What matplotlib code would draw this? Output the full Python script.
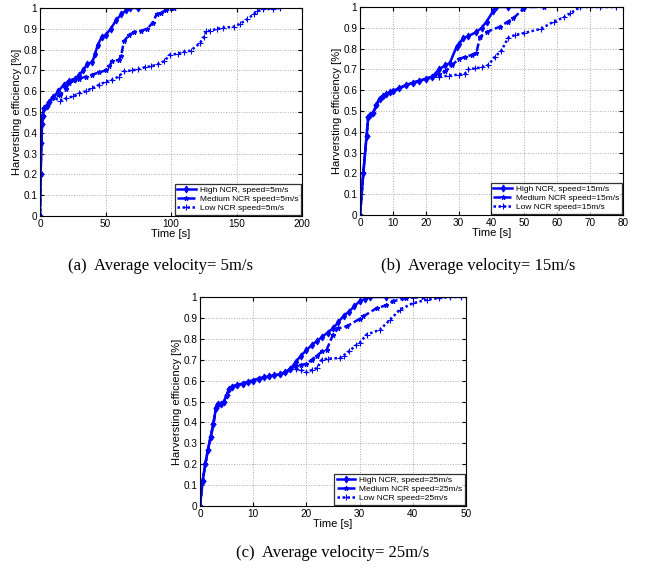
import numpy as np
import matplotlib
matplotlib.use("Agg")
import matplotlib.pyplot as plt

# ---------------------------------------------------------------------------
# data (time [s], harvesting efficiency)
# ---------------------------------------------------------------------------
# (a) 5 m/s
a_start_x = [0, 0.5, 1, 1.5, 2, 3, 5, 7, 10]
a_start_y = [0, 0.2, 0.35, 0.44, 0.48, 0.52, 0.53, 0.55, 0.57]
a_high_x = [14, 18, 22, 27, 30, 33, 36, 40, 42, 44, 47, 50, 54, 58, 62, 66, 69, 75]
a_high_y = [0.60, 0.63, 0.65, 0.66, 0.68, 0.70, 0.73, 0.74, 0.78, 0.82, 0.86, 0.87,
            0.90, 0.94, 0.97, 0.99, 1.0, 1.0]
a_med_x = [15, 20, 22, 25, 30, 35, 40, 45, 50, 53, 55, 60, 62, 64, 68, 72, 77, 82,
           86, 89, 92, 96, 100, 102]
a_med_y = [0.58, 0.61, 0.64, 0.655, 0.66, 0.67, 0.68, 0.69, 0.70, 0.72, 0.745, 0.75,
           0.77, 0.84, 0.87, 0.885, 0.89, 0.90, 0.93, 0.97, 0.975, 0.99, 1.0, 1.0]
a_low_x = [15, 20, 25, 30, 35, 40, 45, 50, 55, 60, 64, 70, 75, 80, 85, 90, 95, 99,
           105, 110, 115, 122, 125, 127, 130, 135, 140, 148, 153, 158, 163, 166,
           170, 178, 183]
a_low_y = [0.555, 0.565, 0.575, 0.59, 0.60, 0.615, 0.63, 0.645, 0.655, 0.67, 0.695,
           0.70, 0.705, 0.715, 0.72, 0.73, 0.745, 0.775, 0.78, 0.79, 0.795, 0.83,
           0.86, 0.89, 0.89, 0.90, 0.905, 0.91, 0.925, 0.945, 0.97, 0.985, 0.995,
           0.995, 1.0]

# (b) 15 m/s
b_start_x = [0, 1, 2, 2.5, 3, 4, 5, 6, 7, 8, 9, 10, 12, 14, 16, 18, 20, 22]
b_start_y = [0, 0.2, 0.38, 0.47, 0.48, 0.49, 0.53, 0.56, 0.57, 0.58, 0.59, 0.595,
             0.61, 0.625, 0.635, 0.645, 0.655, 0.665]
b_high_x = [24, 26, 27.3, 29.4, 30, 31.4, 33, 35.4, 37, 38.5, 40.5, 41.5, 45, 50]
b_high_y = [0.70, 0.72, 0.73, 0.81, 0.82, 0.85, 0.86, 0.88, 0.90, 0.93, 0.98, 1.0,
            1.0, 1.0]
b_med_x = [24, 26, 28, 30, 32, 34, 35.4, 36.5, 38.5, 42.5, 45, 46.6, 49.6, 50, 56]
b_med_y = [0.68, 0.69, 0.72, 0.75, 0.76, 0.77, 0.78, 0.856, 0.88, 0.905, 0.93, 0.945,
           0.99, 1.0, 1.0]
b_low_x = [24, 27, 30, 32, 33, 35, 37, 39, 41, 43, 45, 47, 50, 55, 59, 62, 64, 67,
           73, 78]
b_low_y = [0.665, 0.67, 0.675, 0.68, 0.70, 0.705, 0.71, 0.72, 0.76, 0.79, 0.85, 0.865,
           0.875, 0.895, 0.93, 0.95, 0.97, 1.0, 1.0, 1.0]

# (c) 25 m/s
c_start_x = [0, 0.5, 1, 1.5, 2, 2.5, 3, 3.3, 4, 4.5, 5, 5.5, 6, 7, 8, 9, 10, 11, 12,
             13, 14, 15, 16, 17]
c_start_y = [0, 0.12, 0.2, 0.27, 0.33, 0.39, 0.47, 0.49, 0.49, 0.50, 0.53, 0.56, 0.57,
             0.58, 0.585, 0.595, 0.60, 0.61, 0.615, 0.62, 0.625, 0.63, 0.64, 0.655]
c_high_x = [18, 19, 20, 21, 22, 23, 24, 25, 26, 27, 28, 29, 30, 31, 32, 35, 38]
c_high_y = [0.69, 0.72, 0.745, 0.77, 0.79, 0.81, 0.83, 0.85, 0.88, 0.91, 0.93, 0.955,
            0.98, 0.99, 1.0, 1.0, 1.0]
c_med_x = [18, 19, 20, 21, 22, 23, 23.8, 25, 26, 27.6, 30, 30.7, 33.2, 35, 36.3, 38.8,
           42]
c_med_y = [0.67, 0.675, 0.68, 0.70, 0.72, 0.74, 0.747, 0.82, 0.85, 0.86, 0.895, 0.907,
           0.947, 0.96, 0.98, 0.995, 1.0]
c_low_x = [18, 19, 20, 21, 22, 22.9, 24, 26.3, 27, 28, 29.4, 30, 31.3, 33.8, 35.7,
           37.6, 40, 42.6, 45, 47, 49]
c_low_y = [0.655, 0.65, 0.64, 0.65, 0.66, 0.70, 0.705, 0.708, 0.72, 0.74, 0.77, 0.78,
           0.82, 0.843, 0.89, 0.94, 0.97, 0.987, 0.995, 1.0, 1.0]

panels = [
    ("a", 5, [0, 200], np.arange(0, 201, 50),
     (a_start_x, a_start_y), [(a_high_x, a_high_y), (a_med_x, a_med_y), (a_low_x, a_low_y)]),
    ("b", 15, [0, 80], np.arange(0, 81, 10),
     (b_start_x, b_start_y), [(b_high_x, b_high_y), (b_med_x, b_med_y), (b_low_x, b_low_y)]),
    ("c", 25, [0, 50], np.arange(0, 51, 10),
     (c_start_x, c_start_y), [(c_high_x, c_high_y), (c_med_x, c_med_y), (c_low_x, c_low_y)]),
]

# axes boxes in pixels: left, top, right, bottom
W, H = 647, 571
boxes = {"a": (40, 8, 302, 216), "b": (360, 7, 623, 215), "c": (200, 297, 466, 506)}
captions = {"a": (160, 266), "b": (478, 266), "c": (333, 553)}

blue = "#0000ff"
styles = [dict(ls="-", marker="d", ms=3.5),
          dict(ls=(0, (3, 1.2)), marker="*", ms=3.5),
          dict(ls=(0, (1, 1)), marker="+", ms=4)]
names = ["High NCR, speed=%dm/s", "Medium NCR speed=%dm/s", "Low NCR speed=%dm/s"]

plt.rcParams["font.family"] = ["Liberation Sans", "DejaVu Sans"]

fig = plt.figure(figsize=(W / 100, H / 100), dpi=100)

for key, speed, xlim, xticks, start, series in panels:
    l, t, r, b = boxes[key]
    ax = fig.add_axes([l / W, 1 - b / H, (r - l) / W, (b - t) / H])
    for (sx, sy), st, nm in zip(series, styles, names):
        x = list(start[0]) + list(sx)
        y = list(start[1]) + list(sy)
        ax.plot(x, y, color=blue, lw=1.8, mew=0.8, label=nm % speed, **st)
    ax.set_xlim(xlim)
    ax.set_ylim(0, 1)
    ax.set_xticks(xticks)
    ax.set_yticks(np.arange(0, 1.01, 0.1))
    ax.set_yticklabels(["0"] + ["%.1f" % v for v in np.arange(0.1, 0.95, 0.1)] + ["1"])
    ax.grid(True, ls=":", color="#aaaaaa", lw=0.7)
    ax.tick_params(direction="in", top=True, right=True, labelsize=7.2, length=3, pad=2)
    ax.set_xlabel("Time [s]", fontsize=8, labelpad=0)
    ax.set_ylabel("Harversting efficiency [%]", fontsize=8, labelpad=1)
    leg = ax.legend(loc="lower right", fontsize=6, frameon=True, fancybox=False,
                    edgecolor="black", borderaxespad=0.15, handlelength=2.2,
                    borderpad=0.3, labelspacing=0.15, handletextpad=0.5)
    leg.get_frame().set_linewidth(0.9)
    cx, cy = captions[key]
    fig.text(cx / W, 1 - cy / H, "(%s)  Average velocity= %dm/s" % (key, speed),
             ha="center", va="center", fontsize=12, family="Liberation Serif")

fig.savefig("out.png", dpi=100)
